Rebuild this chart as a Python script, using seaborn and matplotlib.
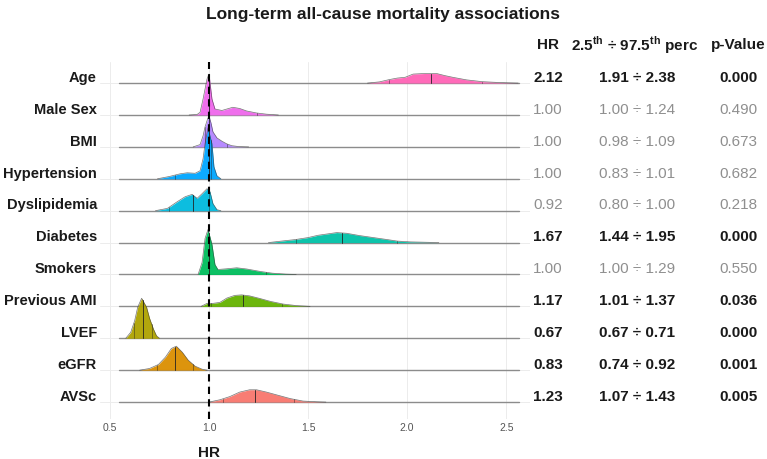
import numpy as np
import pandas as pd
import matplotlib
matplotlib.use("Agg")
import matplotlib.pyplot as plt
import matplotlib.transforms as mtrans
import seaborn as sns

sns.set_theme(style="white")
plt.rcParams['font.family'] = ['Liberation Sans', 'DejaVu Sans']
plt.rcParams['mathtext.fontset'] = 'custom'
plt.rcParams['mathtext.rm'] = 'Liberation Sans'
plt.rcParams['mathtext.bf'] = 'Liberation Sans:bold'

# =============================
# Data
# =============================
variables = ["Age", "Male Sex", "BMI", "Hypertension", "Dyslipidemia", "Diabetes",
             "Smokers", "Previous AMI", "LVEF", "eGFR", "AVSc"]

hr_text = ["2.12", "1.00", "1.00", "1.00", "0.92", "1.67", "1.00", "1.17", "0.67", "0.83", "1.23"]
lo_text = ["1.91", "1.00", "0.98", "0.83", "0.80", "1.44", "1.00", "1.01", "0.67", "0.74", "1.07"]
hi_text = ["2.38", "1.24", "1.09", "1.01", "1.00", "1.95", "1.29", "1.37", "0.71", "0.92", "1.43"]
p_text = ["0.000", "0.490", "0.673", "0.682", "0.218", "0.000", "0.550", "0.036", "0.000", "0.001", "0.005"]

# quantile lines drawn inside each ridge (2.5th, median, 97.5th)
q_lo = [1.91, 1.00, 0.98, 0.83, 0.80, 1.44, 1.00, 1.01, 0.62, 0.74, 1.07]
q_med = [2.12, 1.00, 1.00, 1.00, 0.92, 1.67, 1.00, 1.17, 0.665, 0.83, 1.23]
q_hi = [2.38, 1.24, 1.09, 1.01, 1.00, 1.95, 1.29, 1.37, 0.71, 0.92, 1.43]

# bootstrap HR density profiles (x = HR, h = relative density height)
age_x = [1.80, 1.86, 1.91, 1.95, 1.99, 2.03, 2.09, 2.15, 2.19, 2.23, 2.30, 2.38, 2.47, 2.56]
age_h = [0, 1.2, 3.5, 5, 5.8, 9, 9.6, 9.5, 7.5, 5.8, 3.2, 1.4, 0.5, 0]
male_x = [0.90, 0.94, 0.955, 0.97, 0.99, 1.0, 1.015, 1.03, 1.065, 1.12, 1.155, 1.19, 1.24, 1.29, 1.35]
male_h = [0, 0.5, 2.7, 16, 36, 41, 16, 6, 4.5, 7.7, 6.5, 4, 2, 0.8, 0]
bmi_x = [0.92, 0.955, 0.97, 0.98, 0.993, 1.0, 1.01, 1.02, 1.04, 1.065, 1.09, 1.115, 1.15, 1.2]
bmi_h = [0, 2.3, 11, 20, 28, 31, 24, 15, 9, 5.7, 3, 1.2, 0.3, 0]
hyp_x = [0.74, 0.80, 0.855, 0.89, 0.93, 0.955, 0.97, 0.98, 0.995, 1.015, 1.025, 1.04, 1.06]
hyp_h = [0, 2.3, 5, 6, 5.5, 8, 20, 35, 51, 35, 12, 3, 0]
dys_x = [0.73, 0.79, 0.84, 0.88, 0.915, 0.94, 0.965, 0.99, 1.005, 1.02, 1.04, 1.06]
dys_h = [0, 2.3, 9, 14, 16.3, 12.3, 17, 22, 19, 7, 1, 0]
dia_x = [1.30, 1.375, 1.435, 1.50, 1.55, 1.61, 1.645, 1.695, 1.76, 1.83, 1.90, 1.95, 2.015, 2.10, 2.16]
dia_h = [0, 1.7, 3, 5, 7.3, 9, 10, 9.3, 7, 5, 3, 1.5, 0.7, 0.3, 0]
smk_x = [0.945, 0.965, 0.98, 0.995, 1.015, 1.03, 1.045, 1.09, 1.14, 1.19, 1.26, 1.32, 1.39, 1.44]
smk_h = [0, 12, 36, 45, 30, 10, 5, 5.7, 6.7, 5.5, 3, 1.3, 0.3, 0]
ami_x = [0.96, 0.99, 1.02, 1.055, 1.09, 1.13, 1.165, 1.205, 1.255, 1.31, 1.375, 1.445, 1.51]
ami_h = [0, 3, 3, 4, 8.3, 11, 11.5, 10.5, 8, 5, 2.3, 0.7, 0]
lvef_x = [0.58, 0.605, 0.625, 0.64, 0.66, 0.685, 0.70, 0.72, 0.735, 0.75]
lvef_h = [0, 6, 17.7, 31, 40, 31, 20, 9, 2.5, 0]
egfr_x = [0.65, 0.70, 0.745, 0.78, 0.81, 0.835, 0.865, 0.895, 0.93, 0.965, 0.99]
egfr_h = [0, 1.7, 5.7, 13, 21.7, 24, 18, 10, 4, 1, 0]
avsc_x = [1.0, 1.055, 1.105, 1.155, 1.205, 1.24, 1.29, 1.345, 1.41, 1.475, 1.545, 1.59]
avsc_h = [0, 2.3, 5.5, 10, 12.3, 12.3, 10, 7, 3.5, 1, 0.3, 0]

ridge_x = [age_x, male_x, bmi_x, hyp_x, dys_x, dia_x, smk_x, ami_x, lvef_x, egfr_x, avsc_x]
ridge_h = [age_h, male_h, bmi_h, hyp_h, dys_h, dia_h, smk_h, ami_h, lvef_h, egfr_h, avsc_h]

# ggplot hue palette, top row to bottom row
colors = ["#FF63B6", "#EF67EB", "#B385FF", "#00A6FF", "#00BADE", "#00C1A7",
          "#00BD5C", "#64B200", "#AEA200", "#DB8E00", "#F8766D"]

# =============================
# Plot
# =============================
fig = plt.figure(figsize=(7.67, 4.6), dpi=100)
ax = fig.add_axes([0.1304, 0.087, 0.5606, 0.776])

n = len(variables)
scale = 1 / 31.9          # density height units -> row units
base_lo, base_hi = 0.545, 2.565

for i, name in enumerate(variables):
    y0 = n - 1 - i
    z = 2 + i
    xs = np.array(ridge_x[i])
    ys = y0 + np.array(ridge_h[i]) * scale
    ax.plot([base_lo, base_hi], [y0, y0], color="#8c8c8c", lw=1.0, zorder=z)
    ax.fill_between(xs, y0, ys, color=colors[i], alpha=0.95, lw=0, zorder=z + 0.1)
    sns.lineplot(x=xs, y=ys, ax=ax, color="#3a3a3a", lw=0.5, alpha=0.7,
                 estimator=None, sort=False, zorder=z + 0.2)
    for q, a in zip([q_lo[i], q_med[i], q_hi[i]], [0.45, 0.85, 0.45]):
        top = y0 + np.interp(q, xs, ridge_h[i]) * scale
        ax.plot([q, q], [y0, top], color="#222222", lw=0.7, alpha=a, zorder=z + 0.3)

ax.axvline(1.0, color="black", lw=1.5, ls=(0, (3.5, 2.5)), zorder=100)

ax.set_xlim(0.45, 2.62)
ax.set_ylim(-0.53, n - 1 + 0.66)
ax.set_xticks([0.5, 1.0, 1.5, 2.0, 2.5])
ax.set_xticklabels(["0.5", "1.0", "1.5", "2.0", "2.5"], fontsize=7.5, color="#555555")
ax.set_yticks(range(n))
ax.set_yticklabels([])
ax.tick_params(axis="both", length=0, pad=2)
ax.grid(True, color="#ececec", lw=0.7)
ax.set_axisbelow(True)
sns.despine(ax=ax, left=True, bottom=True)

# row labels and table columns
tr = mtrans.blended_transform_factory(fig.transFigure, ax.transData)
for i, name in enumerate(variables):
    y0 = n - 1 - i + 0.07
    sig = float(p_text[i]) < 0.05
    col = "#1a1a1a" if sig else "#8f8f8f"
    wt = "bold" if sig else "normal"
    ax.text(97 / 767, y0, name, transform=tr, ha="right", va="baseline",
            fontsize=10.5, fontweight="bold", color="#1a1a1a")
    ax.text(548 / 767, y0, hr_text[i], transform=tr, ha="center", va="baseline",
            fontsize=11, fontweight=wt, color=col)
    ax.text(637 / 767, y0, f"{lo_text[i]} ÷ {hi_text[i]}", transform=tr, ha="center",
            va="baseline", fontsize=11, fontweight=wt, color=col)
    ax.text(738 / 767, y0, p_text[i], transform=tr, ha="center", va="baseline",
            fontsize=11, fontweight=wt, color=col)

hy = 1 - 45 / 460
fig.text(548 / 767, hy, "HR", ha="center", va="center", fontsize=11, fontweight="bold", color="#1a1a1a")
fig.text(635 / 767, hy, r"2.5$^{\mathbf{th}}$ ÷ 97.5$^{\mathbf{th}}$ perc", ha="center", va="center",
         fontsize=11, fontweight="bold", color="#1a1a1a")
fig.text(738 / 767, hy, "p-Value", ha="center", va="center", fontsize=11, fontweight="bold", color="#1a1a1a")

fig.text(0.5, 1 - 15 / 460, "Long-term all-cause mortality associations", ha="center", va="center",
         fontsize=12.5, fontweight="bold", color="#1a1a1a")

trx = mtrans.blended_transform_factory(ax.transData, fig.transFigure)
ax.text(1.0, 1 - 453 / 460, "HR", transform=trx, ha="center", va="center",
        fontsize=11, fontweight="bold", color="#1a1a1a")

fig.savefig("out.png", dpi=100)
